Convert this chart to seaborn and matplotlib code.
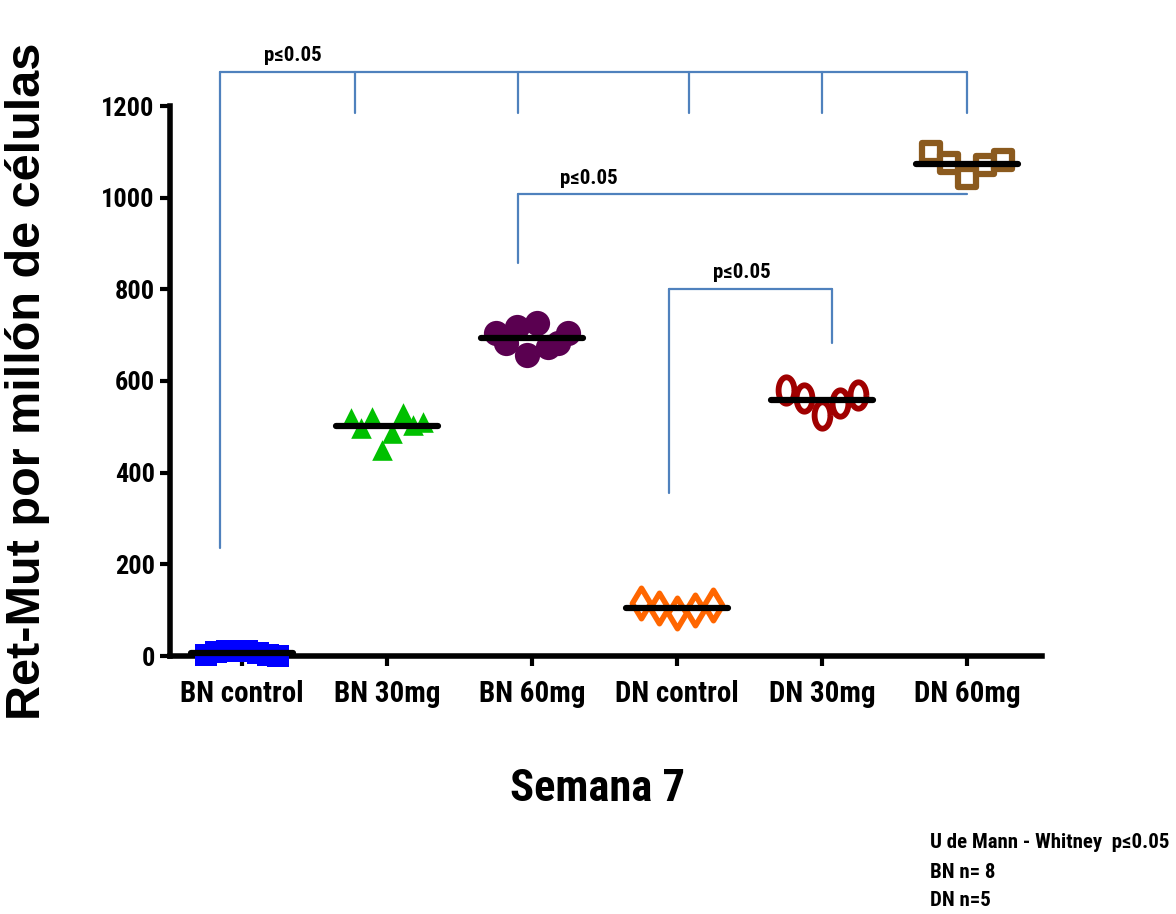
import numpy as np
import pandas as pd
import matplotlib
matplotlib.use("Agg")
import matplotlib.pyplot as plt
import seaborn as sns

# ---------------- data ----------------
groups = ["BN control", "BN 30mg", "BN 60mg", "DN control", "DN 30mg", "DN 60mg"]
bn_control = [2, 8, 12, 12, 10, 6, 2, 0]
bn_30mg = [519, 497, 522, 450, 487, 530, 504, 511]
bn_60mg = [705, 683, 718, 657, 726, 674, 683, 705]
dn_control = [116, 105, 94, 100, 111]
dn_30mg = [580, 563, 525, 552, 570]
dn_60mg = [1100, 1076, 1043, 1071, 1082]
yticks = [0, 200, 400, 600, 800, 1000, 1200]
p_label = "p≤0.05"
notes = ["U de Mann - Whitney  p≤0.05", "BN n= 8", "DN n=5"]

series = [bn_control, bn_30mg, bn_60mg, dn_control, dn_30mg, dn_60mg]

# ---------------- style ----------------
sns.set_theme(style="white")
NARROW = ["Roboto Condensed", "DejaVu Sans"]
WIDE = ["Liberation Sans", "DejaVu Sans"]
plt.rcParams["font.family"] = NARROW
for key in ["text.color", "axes.labelcolor", "xtick.color", "ytick.color"]:
    plt.rcParams[key] = "black"

# ellipse marker (taller than wide)
t = np.linspace(0, 2 * np.pi, 60)
ellipse = np.column_stack([0.6 * np.cos(t), np.sin(t)])

styles = [
    dict(marker="s", s=260, facecolor="#0000FF", edgecolor="#0000FF", linewidth=0),
    dict(marker="^", s=220, facecolor="#00C000", edgecolor="#00C000", linewidth=0),
    dict(marker="o", s=330, facecolor="#5A0050", edgecolor="#5A0050", linewidth=0),
    dict(marker="d", s=240, facecolor="white", edgecolor="#FF6600", linewidth=4.0),
    dict(marker=ellipse, s=360, facecolor="white", edgecolor="#A00000", linewidth=4.2),
    dict(marker="s", s=150, facecolor="white", edgecolor="#8B5A1E", linewidth=4.5),
]

fig = plt.figure(figsize=(11.76, 9.14), dpi=100)
ax = fig.add_axes([170 / 1176, 1 - 656 / 914, (1042 - 170) / 1176, (656 - 106) / 914])

spread = 0.25
for i, (vals, st) in enumerate(zip(series, styles)):
    n = len(vals)
    xs = i + np.linspace(-spread, spread, n)
    df = pd.DataFrame({"x": xs, "y": vals})
    sns.scatterplot(data=df, x="x", y="y", ax=ax, legend=False, zorder=3,
                    clip_on=False, **st)
    ax.hlines(np.mean(vals), i - 0.35, i + 0.35, color="black", lw=4.5,
              zorder=4, clip_on=False, capstyle="round")

ax.set_xlim(-0.497, 5.517)
ax.set_ylim(0, 1200)
ax.set_xticks(range(len(groups)))
ax.set_xticklabels(groups, fontsize=21, fontweight="bold")
ax.set_yticks(yticks)
ax.set_yticklabels([str(v) for v in yticks], fontsize=19, fontweight="bold")
ax.tick_params(axis="both", which="major", direction="out", length=7, width=3,
               color="black", bottom=True, left=True)
ax.tick_params(axis="x", pad=10)
ax.tick_params(axis="y", pad=4)
for side in ["top", "right"]:
    ax.spines[side].set_visible(False)
for side in ["left", "bottom"]:
    ax.spines[side].set_linewidth(4)
    ax.spines[side].set_color("black")

ax.set_ylabel("Ret-Mut por millón de células", fontsize=35, fontweight="bold",
              family=WIDE)
ax.yaxis.set_label_coords((50 - 170) / 872, 0.5)
ax.set_xlabel("Semana 7", fontsize=32, fontweight="bold")
ax.xaxis.set_label_coords((598 - 170) / 872, (656 - 768) / 550)

# significance brackets (layout)
bc = "#4F81BD"
blw = 1.6
def seg(xs, ys):
    ax.plot(xs, ys, color=bc, lw=blw, clip_on=False, zorder=2)

# bracket 1
seg([-0.15, 5.0], [1274, 1274])
seg([-0.15, -0.15], [1274, 236])
for xv in [0.78, 1.9, 3.08, 4.0, 5.0]:
    seg([xv, xv], [1274, 1185])
ax.text(0.35, 1290, p_label, fontsize=15, fontweight="bold", ha="center", va="bottom")
# bracket 2
seg([1.9, 5.0], [1008, 1008])
seg([1.9, 1.9], [1008, 857])
ax.text(2.39, 1022, p_label, fontsize=15, fontweight="bold", ha="center", va="bottom")
# bracket 3
seg([2.945, 4.07], [801, 801])
seg([2.945, 2.945], [801, 356])
seg([4.07, 4.07], [801, 683])
ax.text(3.45, 815, p_label, fontsize=15, fontweight="bold", ha="center", va="bottom")

for k, line in enumerate(notes):
    fig.text(930 / 1176, 1 - (843 + 29 * k) / 914, line, fontsize=15,
             fontweight="bold", ha="left", va="center")

fig.savefig("out.png", dpi=100, facecolor="white")
